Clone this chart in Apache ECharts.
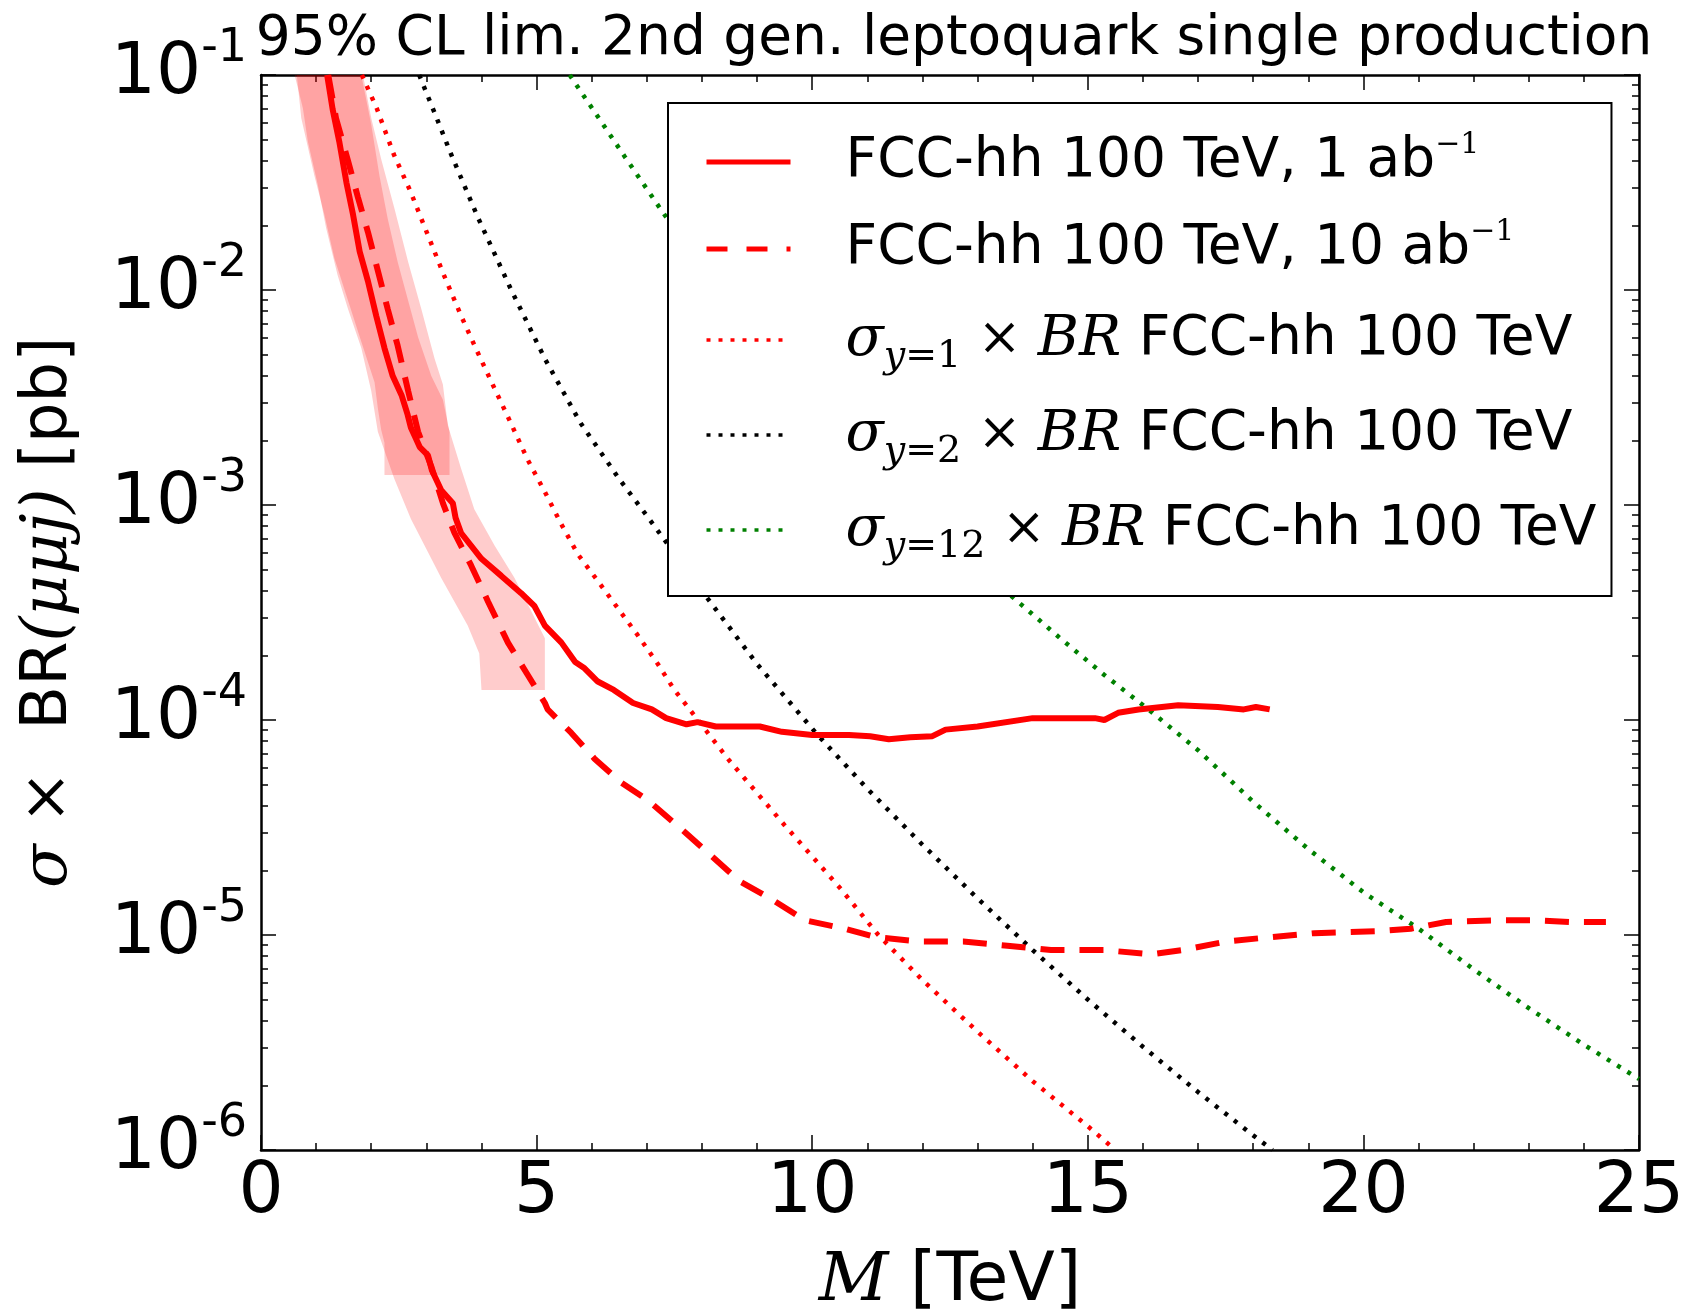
<!DOCTYPE html>
<html>
<head>
<meta charset="utf-8">
<script src="https://cdn.jsdelivr.net/npm/echarts@6/dist/echarts.min.js"></script>
<style>
  html, body { margin: 0; padding: 0; background: #fff; }
  #box { width: 1685px; height: 1311px; }
</style>
</head>
<body>
<div id="box"></div>
<script>
// observed limit, 1 ab^-1 (solid)
var obsMass = [1.20, 1.30, 1.42, 1.55, 1.67, 1.79, 1.94, 2.09, 2.24, 2.39, 2.55, 2.66, 2.72, 2.81, 2.88,
  3.03, 3.10, 3.27, 3.48, 3.53, 3.63, 4.00, 4.36, 4.72, 4.96, 5.15, 5.45, 5.70, 5.87, 6.11, 6.40, 6.75,
  7.09, 7.35, 7.72, 7.92, 8.25, 9.05, 9.45, 10.0, 10.67, 11.05, 11.39, 11.78, 12.18, 12.42, 13.0, 14.0,
  15.13, 15.3, 15.55, 15.92, 16.64, 17.36, 17.83, 18.05, 18.3];
var obsLimit = [1.00e-1, 6.92e-2, 4.90e-2, 3.16e-2, 2.24e-2, 1.51e-2, 1.10e-2, 7.59e-3, 5.37e-3, 3.98e-3,
  3.24e-3, 2.63e-3, 2.29e-3, 2.04e-3, 1.86e-3, 1.70e-3, 1.45e-3, 1.17e-3, 1.02e-3, 8.71e-4, 7.41e-4,
  5.62e-4, 4.68e-4, 3.89e-4, 3.39e-4, 2.75e-4, 2.29e-4, 1.86e-4, 1.74e-4, 1.51e-4, 1.38e-4, 1.20e-4,
  1.12e-4, 1.02e-4, 9.55e-5, 9.77e-5, 9.33e-5, 9.33e-5, 8.81e-5, 8.51e-5, 8.51e-5, 8.41e-5, 8.13e-5,
  8.32e-5, 8.41e-5, 9.02e-5, 9.33e-5, 1.02e-4, 1.02e-4, 1.00e-4, 1.08e-4, 1.12e-4, 1.17e-4, 1.15e-4,
  1.12e-4, 1.15e-4, 1.12e-4];

// limit, 10 ab^-1 (dashed)
var expMass = [1.22, 1.36, 1.58, 1.76, 1.94, 2.12, 2.30, 2.48, 2.67, 2.85, 3.09, 3.30, 3.51, 3.81, 4.12,
  4.48, 4.84, 5.15, 5.20, 5.63, 6.05, 6.53, 7.0, 7.64, 8.12, 8.68, 9.24, 9.87, 10.59, 11.15, 11.94,
  12.74, 13.54, 14.33, 15.29, 16.16, 16.72, 17.52, 18.31, 19.11, 20.22, 20.86, 21.5, 22.45, 23.09,
  23.73, 24.4];
var expLimit = [1.00e-1, 6.31e-2, 3.98e-2, 2.69e-2, 1.86e-2, 1.23e-2, 8.13e-3, 5.50e-3, 3.39e-3, 2.19e-3,
  1.51e-3, 1.02e-3, 7.41e-4, 5.25e-4, 3.55e-4, 2.29e-4, 1.62e-4, 1.20e-4, 1.12e-4, 8.71e-5, 6.61e-5,
  5.13e-5, 4.27e-5, 3.09e-5, 2.40e-5, 1.78e-5, 1.48e-5, 1.17e-5, 1.07e-5, 9.77e-6, 9.33e-6, 9.33e-6,
  8.91e-6, 8.51e-6, 8.51e-6, 8.13e-6, 8.51e-6, 9.33e-6, 9.77e-6, 1.02e-5, 1.04e-5, 1.07e-5, 1.15e-5,
  1.17e-5, 1.17e-5, 1.15e-5, 1.15e-5];

// sigma x BR, coupling y = 1 (red dotted)
var y1Mass = [1.83, 2.10, 2.41, 2.71, 3.02, 3.32, 3.63, 3.93, 4.24, 4.48, 4.84, 5.15, 5.45, 5.75, 6.10,
  6.50, 6.82, 7.20, 7.50, 7.90, 8.50, 9.50, 10.5, 11.2, 12.0, 13.0, 14.0, 15.0, 15.5];
var y1Xsec = [1.00e-1, 7.00e-2, 4.27e-2, 2.88e-2, 1.82e-2, 1.17e-2, 7.59e-3, 5.13e-3, 3.47e-3, 2.57e-3,
  1.62e-3, 1.15e-3, 8.13e-4, 5.89e-4, 4.47e-4, 3.24e-4, 2.51e-4, 1.82e-4, 1.38e-4, 1.02e-4, 6.46e-5,
  3.24e-5, 1.66e-5, 1.00e-5, 6.17e-6, 3.55e-6, 2.09e-6, 1.29e-6, 1.00e-6];

// y = 2 (black dotted)
var y2Mass = [2.87, 3.14, 3.45, 3.93, 4.54, 5.15, 5.80, 6.50, 7.0, 8.0, 9.0, 10.1, 11.0, 12.0, 13.0,
  14.0, 15.0, 16.0, 17.0, 18.0, 18.35];
var y2Xsec = [1.00e-1, 6.76e-2, 4.27e-2, 2.19e-2, 1.00e-2, 4.79e-3, 2.40e-3, 1.32e-3, 8.91e-4, 3.98e-4,
  1.82e-4, 8.51e-5, 4.79e-5, 2.63e-5, 1.48e-5, 8.51e-6, 5.01e-6, 3.02e-6, 1.86e-6, 1.17e-6, 1.00e-6];

// y = 12 (green dotted), part of it runs behind the legend
var y12Mass = [5.6, 6.1, 6.6, 7.0, 7.4, 13.6, 14.5, 15.3, 16.1, 17.0, 18.0, 19.0, 20.0, 21.0, 22.0,
  23.0, 24.0, 25.0];
var y12Xsec = [1.00e-1, 6.46e-2, 4.17e-2, 2.95e-2, 2.09e-2, 3.80e-4, 2.40e-4, 1.62e-4, 1.12e-4, 7.24e-5,
  4.17e-5, 2.51e-5, 1.58e-5, 1.07e-5, 6.92e-6, 4.57e-6, 3.09e-6, 2.14e-6];

// outer (2 sigma) band outline: down the left edge, up the right edge
var band2Mass = [0.61, 0.76, 0.85, 1.03, 1.18, 1.39, 1.58, 1.82, 2.00, 2.12, 2.42, 2.72, 3.03, 3.27,
  3.51, 3.75, 3.96, 4.00, 5.15, 5.15, 4.60, 4.24, 3.87, 3.63, 3.39, 3.30, 3.15, 2.91, 2.67, 2.42, 2.18,
  2.00, 1.85];
var band2Limit = [1.00e-1, 7.00e-2, 4.90e-2, 3.09e-2, 1.95e-2, 1.17e-2, 8.13e-3, 5.37e-3, 3.39e-3,
  2.19e-3, 1.32e-3, 8.61e-4, 6.03e-4, 4.57e-4, 3.55e-4, 2.75e-4, 2.04e-4, 1.38e-4, 1.38e-4, 2.40e-4,
  4.57e-4, 6.46e-4, 9.55e-4, 1.48e-3, 2.34e-3, 3.63e-3, 4.79e-3, 8.13e-3, 1.35e-2, 2.40e-2, 4.07e-2,
  6.31e-2, 1.00e-1];

// inner (1 sigma) band outline
var band1Mass = [0.65, 0.73, 0.97, 1.15, 1.33, 1.58, 1.82, 2.06, 2.12, 2.18, 2.24, 2.24, 3.42, 3.42,
  3.30, 3.09, 2.85, 2.67, 2.48, 2.30, 2.15, 2.00, 1.82];
var band1Limit = [1.00e-1, 6.31e-2, 3.39e-2, 2.24e-2, 1.41e-2, 8.91e-3, 5.75e-3, 3.72e-3, 2.82e-3,
  2.24e-3, 1.95e-3, 1.38e-3, 1.38e-3, 2.19e-3, 3.09e-3, 3.98e-3, 6.03e-3, 8.91e-3, 1.35e-2, 2.14e-2,
  3.39e-2, 5.89e-2, 1.00e-1];

var DOT = [4, 8];
var DASH = [24, 15];

function pair(ms, vs) {
  return ms.map(function (m, i) { return [m, vs[i]]; });
}

function band(ms, vs) {
  return {
    type: 'custom',
    silent: true,
    clip: true,
    z: 1,
    data: [[ms[0], vs[0]]],
    renderItem: function (params, api) {
      var pts = ms.map(function (m, i) { return api.coord([m, vs[i]]); });
      return {
        type: 'polygon',
        shape: { points: pts },
        style: { fill: 'rgba(255,0,0,0.2)' }
      };
    }
  };
}

function line(name, ms, vs, color, width, dash) {
  return {
    name: name,
    type: 'line',
    data: pair(ms, vs),
    symbol: 'none',
    clip: true,
    z: 3,
    itemStyle: { color: color },
    lineStyle: { color: color, width: width, type: dash, cap: 'butt' }
  };
}

var legendText = {
  obs1: '{g| }{t|FCC-hh 100 TeV, 1 ab}{sup|−1}',
  exp10: '{g| }{t|FCC-hh 100 TeV, 10 ab}{sup|−1}',
  y1: '{g| }{it|σ}{sub|y}{subn|=1}{m| × }{it|BR}{t| FCC-hh 100 TeV}',
  y2: '{g| }{it|σ}{sub|y}{subn|=2}{m| × }{it|BR}{t| FCC-hh 100 TeV}',
  y12: '{g| }{it|σ}{sub|y}{subn|=12}{m| × }{it|BR}{t| FCC-hh 100 TeV}'
};

var black = '#000';
var tickStyle = { color: black, width: 1.5 };
var frame = { show: true, onZero: false, lineStyle: { color: black, width: 2.5 } };

function xAx(pos, showLabel) {
  return {
    type: 'value', min: 0, max: 25, interval: 5, position: pos,
    axisLine: frame,
    axisTick: { inside: true, length: 15, lineStyle: tickStyle },
    minorTick: { show: true, splitNumber: 5, length: 7, lineStyle: tickStyle },
    splitLine: { show: false },
    minorSplitLine: { show: false },
    axisLabel: { show: showLabel, fontSize: 71, color: black, fontFamily: 'DejaVu Sans', margin: 8 }
  };
}

function yAx(pos, showLabel) {
  return {
    type: 'log', logBase: 10, min: 1e-6, max: 1e-1, position: pos,
    axisLine: frame,
    axisTick: { inside: true, length: 15, lineStyle: tickStyle },
    minorTick: { show: true, splitNumber: 9, length: 7, lineStyle: tickStyle },
    splitLine: { show: false },
    minorSplitLine: { show: false },
    axisLabel: {
      show: showLabel, margin: 14, color: black,
      formatter: function (v) {
        return '{b|10}{s|' + Math.round(Math.log10(v)) + '}';
      },
      rich: {
        b: { fontSize: 71, fontFamily: 'DejaVu Sans', color: black, lineHeight: 76 },
        s: { fontSize: 46, fontFamily: 'DejaVu Sans', color: black, lineHeight: 76, padding: [0, 0, 52, 0] }
      }
    }
  };
}

var xBottom = xAx('bottom', true);
xBottom.name = '{it|M}{t| [TeV]}';
xBottom.nameLocation = 'middle';
xBottom.nameGap = 98;
xBottom.nameTextStyle = {
  rich: {
    it: { fontSize: 68, fontFamily: 'DejaVu Serif', fontStyle: 'italic', color: black },
    t: { fontSize: 68, fontFamily: 'DejaVu Sans', color: black }
  }
};

var yLeft = yAx('left', true);
yLeft.name = '{it|σ}{m| × }{t| BR}{it|(μμj)}{t| [pb]}';
yLeft.nameLocation = 'middle';
yLeft.nameRotate = 90;
yLeft.nameGap = 180;
yLeft.nameTextStyle = {
  rich: {
    it: { fontSize: 64, fontFamily: 'DejaVu Serif', fontStyle: 'italic', color: black },
    m: { fontSize: 64, fontFamily: 'DejaVu Serif', color: black },
    t: { fontSize: 64, fontFamily: 'DejaVu Sans', color: black }
  }
};

var chart = echarts.init(document.getElementById('box'));

chart.setOption({
  animation: false,
  backgroundColor: '#fff',
  title: {
    text: '95% CL lim. 2nd gen. leptoquark single production',
    left: 949, top: 7, textAlign: 'center',
    textStyle: { fontSize: 55, fontWeight: 'normal', fontFamily: 'DejaVu Sans', color: black }
  },
  grid: { left: 261, right: 46, top: 75, bottom: 161, containLabel: false, outerBoundsMode: 'none' },
  xAxis: [xBottom, xAx('top', false)],
  yAxis: [yLeft, yAx('right', false)],
  legend: {
    orient: 'vertical', left: 668, top: 103,
    data: [
      { name: 'obs1', lineStyle: { width: 5 } },
      { name: 'exp10', lineStyle: { width: 5, type: [21, 19] } },
      { name: 'y1', lineStyle: { width: 3.5, type: DOT } },
      { name: 'y2', lineStyle: { width: 3.5, type: DOT } },
      { name: 'y12', lineStyle: { width: 3.5, type: DOT } }
    ],
    selectedMode: false,
    padding: [27, 15, 30, 36],
    itemGap: 23, itemWidth: 84, itemHeight: 20,
    backgroundColor: '#fff', borderColor: black, borderWidth: 2, borderRadius: 0,
    itemStyle: { opacity: 0 },
    formatter: function (name) { return legendText[name]; },
    textStyle: {
      color: black,
      rich: {
        g: { width: 50, fontSize: 55, lineHeight: 64 },
        t: { fontSize: 55, fontFamily: 'DejaVu Sans', color: black, lineHeight: 64 },
        sup: { fontSize: 30, fontFamily: 'DejaVu Serif', color: black, lineHeight: 64, padding: [0, 0, 34, 0] },
        it: { fontSize: 56, fontFamily: 'DejaVu Serif', fontStyle: 'italic', color: black, lineHeight: 64 },
        m: { fontSize: 52, fontFamily: 'DejaVu Serif', color: black, lineHeight: 64 },
        sub: { fontSize: 38, fontFamily: 'DejaVu Serif', fontStyle: 'italic', color: black, lineHeight: 64, padding: [34, 0, 0, 0] },
        subn: { fontSize: 38, fontFamily: 'DejaVu Serif', color: black, lineHeight: 64, padding: [34, 0, 0, 0] }
      }
    }
  },
  series: [
    band(band2Mass, band2Limit),
    band(band1Mass, band1Limit),
    line('y1', y1Mass, y1Xsec, '#ff0000', 4.5, DOT),
    line('y2', y2Mass, y2Xsec, '#000000', 4.5, DOT),
    line('y12', y12Mass, y12Xsec, '#008000', 4.5, DOT),
    line('exp10', expMass, expLimit, '#ff0000', 6, DASH),
    line('obs1', obsMass, obsLimit, '#ff0000', 6, 'solid')
  ]
});
</script>
</body>
</html>
